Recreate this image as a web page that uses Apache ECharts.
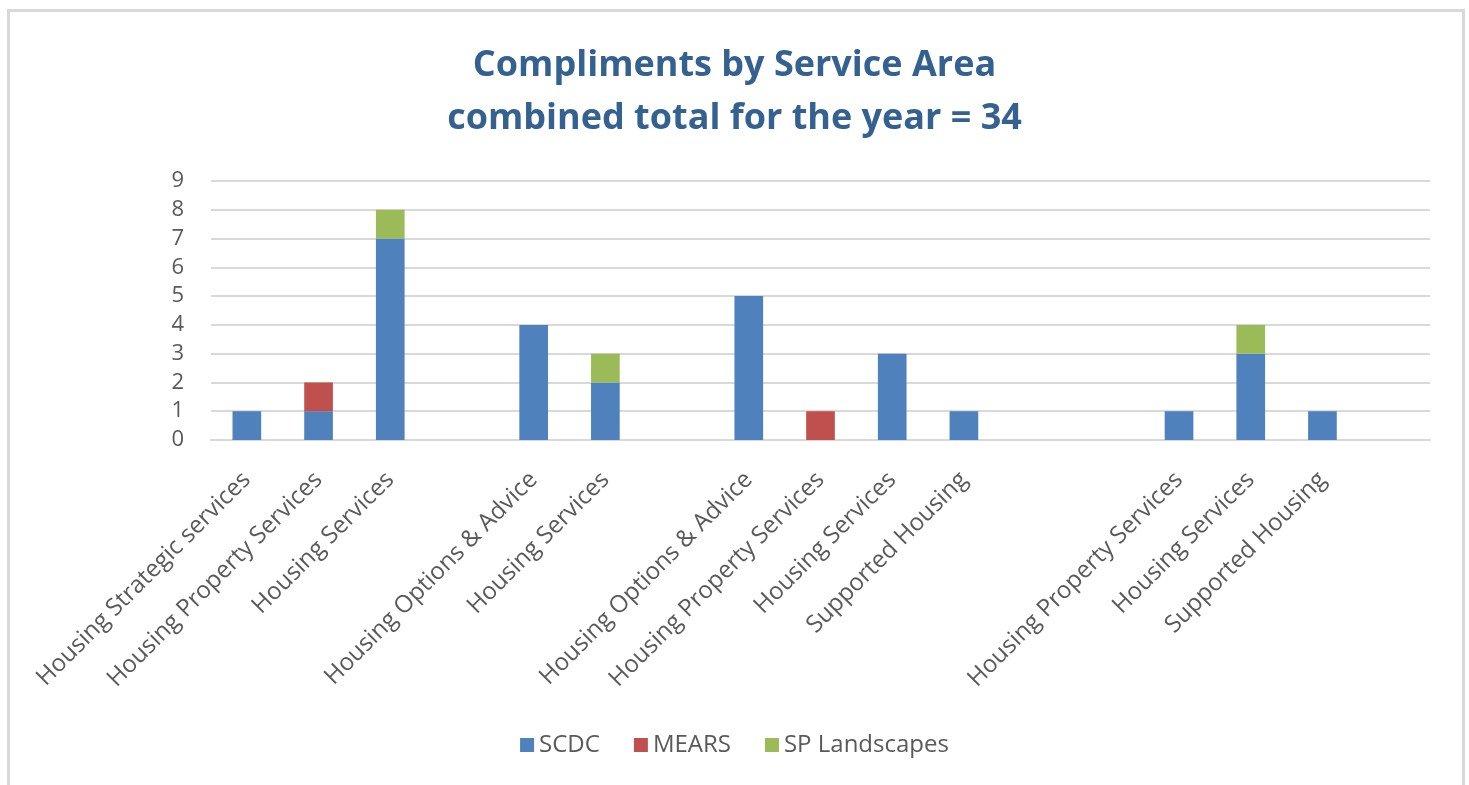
<!DOCTYPE html>
<html>
<head>
<meta charset="utf-8">
<title>Compliments by Service Area</title>
<script src="https://cdn.jsdelivr.net/npm/echarts@6/dist/echarts.min.js"></script>
<style>
  html, body { margin: 0; padding: 0; background: #fff; }
  #chart { width: 1469px; height: 785px; }
</style>
</head>
<body>
<div id="chart"></div>
<script>
// blank strings are the empty spacer slots between the groups
const categories = [
  'Housing Strategic services', 'Housing Property Services', 'Housing Services', '',
  'Housing Options & Advice', 'Housing Services', '',
  'Housing Options & Advice', 'Housing Property Services', 'Housing Services', 'Supported Housing', '', '',
  'Housing Property Services', 'Housing Services', 'Supported Housing', ''
]
const scdc         = [1, 1, 7, 0, 4, 2, 0, 5, 0, 3, 1, 0, 0, 1, 3, 1, 0]
const mears        = [0, 1, 0, 0, 0, 0, 0, 0, 1, 0, 0, 0, 0, 0, 0, 0, 0]
const spLandscapes = [0, 0, 1, 0, 0, 1, 0, 0, 0, 0, 0, 0, 0, 0, 1, 0, 0]
const yTicks = [0, 9, 1] // min, max, interval

const font = 'Open Sans'
const textGrey = '#595959'
const lineGrey = '#d9d9d9'

const chart = echarts.init(document.getElementById('chart'))

const makeSeries = (name, data, color) => ({
  name,
  type: 'bar',
  stack: 'total',
  barWidth: '40%',
  data,
  itemStyle: { color }
})

chart.setOption({
  animation: false,
  backgroundColor: '#fff',
  textStyle: { fontFamily: font },
  graphic: [{
    type: 'rect',
    shape: { x: 8.5, y: 10.5, width: 1455, height: 790 },
    style: { fill: 'none', stroke: lineGrey, lineWidth: 3 },
    silent: true
  }],
  title: {
    text: 'Compliments by Service Area\ncombined total for the year = 34',
    left: 'center',
    top: 34,
    textStyle: {
      fontFamily: font,
      fontSize: 36,
      fontWeight: 'bold',
      color: '#34618f',
      lineHeight: 53
    }
  },
  legend: {
    bottom: 23,
    left: 'center',
    itemWidth: 14,
    itemHeight: 14,
    itemGap: 34,
    icon: 'rect',
    textStyle: { fontFamily: font, fontSize: 24, color: textGrey }
  },
  grid: { left: 211, right: 39, top: 181, bottom: 345 },
  xAxis: {
    type: 'category',
    data: categories,
    axisLine: { show: true, lineStyle: { color: lineGrey, width: 2 } },
    axisTick: { show: false },
    axisLabel: {
      interval: 0,
      rotate: 45,
      margin: 36,
      fontFamily: font,
      fontSize: 24,
      color: textGrey
    }
  },
  yAxis: {
    type: 'value',
    min: yTicks[0],
    max: yTicks[1],
    interval: yTicks[2],
    axisLine: { show: false },
    axisTick: { show: false },
    splitLine: { lineStyle: { color: lineGrey, width: 2 } },
    axisLabel: { margin: 27, fontFamily: font, fontSize: 22, color: textGrey }
  },
  series: [
    makeSeries('SCDC', scdc, '#4f81bd'),
    makeSeries('MEARS', mears, '#c0504d'),
    makeSeries('SP Landscapes', spLandscapes, '#9bbb59')
  ]
})
</script>
</body>
</html>
